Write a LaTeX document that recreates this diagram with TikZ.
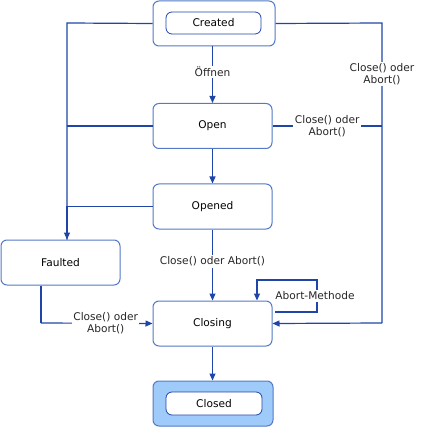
\documentclass[tikz,border=0pt]{standalone}
\usepackage{fontspec}
\setmainfont{DejaVu Sans}
\usetikzlibrary{arrows.meta}
\definecolor{lineblue}{HTML}{1F45A8}
\definecolor{boxblue}{HTML}{5479C6}
\definecolor{fillblue}{HTML}{9FCBFA}
\begin{document}
\begin{tikzpicture}[x=1pt,y=-1pt,
  font=\fontsize{10.6}{12}\selectfont,
  state/.style={draw=boxblue,line width=1pt,rounded corners=6pt,fill=white,minimum width=119pt,minimum height=45pt,inner sep=0pt},
  inner/.style={draw=lineblue,line width=0.8pt,rounded corners=6pt,fill=white,minimum width=95pt,minimum height=22pt,inner sep=0pt},
  conn/.style={draw=lineblue,line width=1.2pt},
  arr/.style={conn,-{Triangle[length=7pt,width=6pt]}},
  lbl/.style={fill=white,inner sep=1.5pt,align=center,text=black!85}]
\useasboundingbox (0,0) rectangle (421,427);
% states
\node[state,minimum width=122pt] (created) at (214,23.5) {};
\node[inner] (createdi) at (213.5,23) {Created};
\node[state] (open) at (212.5,126) {Open};
\node[state] (opened) at (212.5,206.5) {Opened};
\node[state] (faulted) at (60.5,262.5) {Faulted};
\node[state] (closing) at (212.5,323.5) {Closing};
\node[state,fill=fillblue,minimum width=120pt] (closed) at (213,403.5) {};
\node[inner,minimum width=96pt,minimum height=23pt] (closedi) at (214,403.5) {Closed};
% coordinates
\coordinate (L) at (67,23);
\coordinate (R) at (382,23);
\coordinate (Rb) at (382,323);
\coordinate (Fb) at (41,323);
\coordinate (la) at (275,312);
\coordinate (lb) at (317,312);
\coordinate (lc) at (317,280);
\coordinate (ld) at (257,280);
% vertical chain
\draw[arr] (created.south -| open.north) -- node[lbl,pos=0.45]{Öffnen} (open.north);
\draw[arr] (open) -- (opened);
\draw[arr] (opened) -- node[lbl,pos=0.45]{Close() oder Abort()} (closing);
\draw[arr] (closing) -- (closing |- closed.north);
% left bus to Faulted
\draw[conn] (created.west) -- (L) -- (L |- faulted.north);
\draw[arr] (L |- opened.west) -- (L |- faulted.north);
\draw[conn] (open.west) -- (L |- open.west);
\draw[conn] (opened.west) -- (L |- opened.west);
% right bus
\draw[conn] (created.east) -- (R) -- node[lbl,pos=0.17]{Close() oder\\Abort()} (Rb);
\draw[arr] (Rb) -- (closing.east);
\draw[conn] (open.east) -- node[lbl,pos=0.5]{Close() oder\\Abort()} (open.east -| R);
% Faulted to Closing
\draw[conn] (faulted.south -| Fb) -- (Fb);
\draw[arr] (Fb) -- node[lbl,pos=0.58]{Close() oder\\Abort()} (closing.west);
% self loop
\draw[arr] (la) -- (lb) -- (lc) -- (ld) -- (ld |- closing.north);
\node[lbl] (am) at (315,296) {Abort-Methode};
\end{tikzpicture}
\end{document}
